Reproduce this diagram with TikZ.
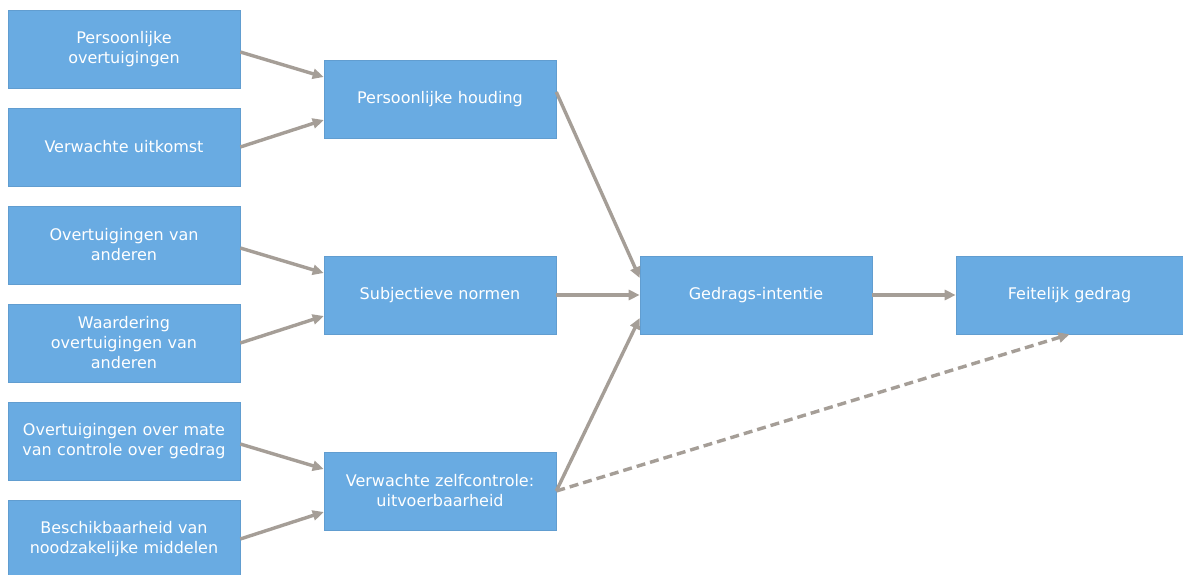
\documentclass[tikz,border=0pt]{standalone}
\usepackage{fontspec}
\setmainfont{DejaVu Sans}
\usetikzlibrary{arrows.meta}
\definecolor{boxblue}{HTML}{69ABE2}
\definecolor{arrowgray}{HTML}{A59E97}
\begin{document}
\begin{tikzpicture}[x=1pt,y=-1pt,
  box/.style={rectangle,fill=boxblue,draw=boxblue!92!black,line width=0.6pt,
    text=white,align=center,inner sep=2pt,
    font=\fontsize{16}{20}\selectfont},
  lbox/.style={box,minimum width=232pt,minimum height=78pt,text width=224pt},
  lbox2/.style={box,minimum width=227pt,minimum height=78pt,text width=219pt},
  arr/.style={draw=arrowgray,line width=3.4pt,
    -{Triangle[length=11pt,width=10pt]},shorten >=0pt},
  darr/.style={arr,dash pattern=on 9pt off 5pt}]
\useasboundingbox (0,0) rectangle (1183,575);
\fill[white] (0,0) rectangle (1183,575);
% left column
\node[lbox] (a1) at (124,49) {Persoonlijke\\overtuigingen};
\node[lbox] (a2) at (124,147) {Verwachte uitkomst};
\node[lbox] (a3) at (124,245) {Overtuigingen van\\anderen};
\node[lbox] (a4) at (124,343) {Waardering\\overtuigingen van\\anderen};
\node[lbox] (a5) at (124,441) {Overtuigingen over mate\\van controle over gedrag};
\node[lbox] (a6) at (124,539) {Beschikbaarheid van\\noodzakelijke middelen};
% middle column
\node[lbox] (m1) at (440,99) {Persoonlijke houding};
\node[lbox] (m2) at (440,295) {Subjectieve normen};
\node[lbox] (m3) at (440,491) {Verwachte zelfcontrole:\\uitvoerbaarheid};
% right
\node[lbox] (g) at (756,295) {Gedrags-intentie};
\node[lbox2] (f) at (1069.5,295) {Feitelijk gedrag};
% arrows left -> middle
\draw[arr] ([yshift=-3pt]a1.east) -- ([yshift=22pt]m1.west);
\draw[arr] (a2.east) -- ([yshift=-21pt]m1.west);
\draw[arr] ([yshift=-3pt]a3.east) -- ([yshift=22pt]m2.west);
\draw[arr] (a4.east) -- ([yshift=-21pt]m2.west);
\draw[arr] ([yshift=-3pt]a5.east) -- ([yshift=22pt]m3.west);
\draw[arr] (a6.east) -- ([yshift=-21pt]m3.west);
% middle -> intention
\draw[arr] ([yshift=7pt]m1.east) -- ([yshift=17pt]g.west);
\draw[arr] (m2.east) -- (g.west);
\draw[arr] (m3.east) -- ([yshift=-23pt]g.west);
\draw[arr] (g.east) -- (f.west);
\draw[darr] (m3.east) -- (f.south);
\end{tikzpicture}
\end{document}
